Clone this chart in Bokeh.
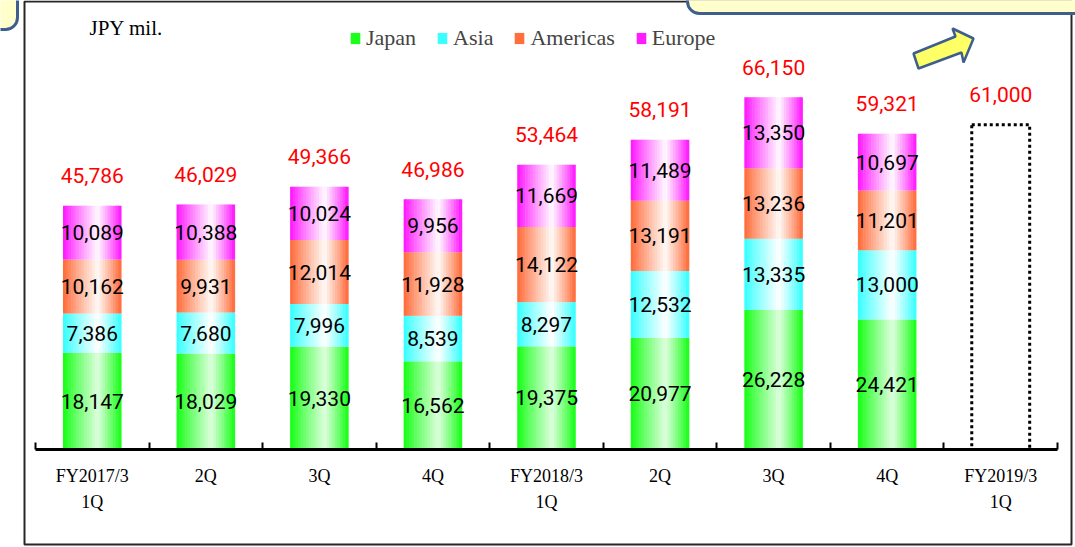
import numpy as np
from bokeh.plotting import figure
from bokeh.models import (ColumnDataSource, FixedTicker, Legend, LegendItem,
                          BoxAnnotation, PolyAnnotation, Label)
from bokeh.transform import dodge
from bokeh.core.properties import value
from bokeh.embed import file_html
from bokeh.resources import INLINE

# ---------------- data ----------------
categories = ["FY2017/3\n1Q", "2Q", "3Q", "4Q", "FY2018/3\n1Q", "2Q", "3Q", "4Q", "FY2019/3\n1Q"]
japan = [18147, 18029, 19330, 16562, 19375, 20977, 26228, 24421]
asia = [7386, 7680, 7996, 8539, 8297, 12532, 13335, 13000]
americas = [10162, 9931, 12014, 11928, 14122, 13191, 13236, 11201]
europe = [10089, 10388, 10024, 9956, 11669, 11489, 13350, 10697]
totals = [45786, 46029, 49366, 46986, 53464, 58191, 66150, 59321]
forecast = 61000

series_names = ["Japan", "Asia", "Americas", "Europe"]
series_vals = [japan, asia, americas, europe]
edge_colors = [(0x10, 0xFF, 0x10), (0x30, 0xFF, 0xFF), (0xFF, 0x66, 0x33), (0xFF, 0x10, 0xFF)]
light_colors = [(0xDD, 0xFF, 0xDD), (0xFF, 0xFF, 0xFF), (0xFF, 0xFA, 0xF6), (0xFF, 0xFA, 0xFF)]

n_act = len(japan)
n_cat = len(categories)
xc = np.arange(n_cat) + 0.5
BAR_W = 0.51

data = dict(x=xc[:n_act])
bottom = np.zeros(n_act)
for name, vals in zip(series_names, series_vals):
    v = np.array(vals, dtype=float)
    data[name + "_b"] = bottom.copy()
    data[name + "_t"] = bottom + v
    data[name + "_m"] = bottom + v / 2
    data[name + "_lab"] = [f"{int(a):,}" for a in vals]
    bottom = bottom + v
src = ColumnDataSource(data)

tot_src = ColumnDataSource(dict(
    x=list(xc), y=totals + [forecast],
    lab=[f"{t:,}" for t in totals + [forecast]]))
fc_src = ColumnDataSource(dict(x=[xc[-1]], top=[forecast]))

# ---------------- figure ----------------
# frame covers whole canvas; axis drawn at y=0 via fixed_location
W, H = 1075, 547
px_per_x = (1057 - 35) / n_cat
px_per_y = 5.325e-3
x0 = -35 / px_per_x
x1 = n_cat + (W - 1057) / px_per_x
y1 = 449 / px_per_y
y0 = -(H - 449) / px_per_y

p = figure(width=W, height=H, output_backend="svg", toolbar_location=None,
           x_range=(x0, x1), y_range=(y0, y1), min_border=0)
p.outline_line_color = None
p.grid.visible = False
p.yaxis.visible = False
p.background_fill_color = "white"
p.border_fill_color = "white"

def canvas_box(**kw):
    return BoxAnnotation(left_units="canvas", right_units="canvas",
                         top_units="canvas", bottom_units="canvas", **kw)

# outer frame
p.add_layout(canvas_box(left=24, right=1071, top=1, bottom=544,
                        fill_alpha=0, line_color="#262626", line_alpha=1, line_width=2))

# ---------------- gradient bars (strips) ----------------
N = 22
sw = BAR_W / N
legend_rs = {}
for si, name in enumerate(series_names):
    ec = np.array(edge_colors[si], float)
    lc = np.array(light_colors[si], float)
    for j in range(N):
        f = (j + 0.5) / N
        peak = 0.6
        t = f / peak if f <= peak else (1 - f) / (1 - peak)
        t = t ** 0.9
        c = ec + (lc - ec) * t
        col = "#%02x%02x%02x" % tuple(int(round(k)) for k in c)
        off = -BAR_W / 2 + (j + 0.5) * sw
        r = p.vbar(x=dodge("x", off), bottom=name + "_b", top=name + "_t",
                   width=sw * 1.25, fill_color=col, line_color=None, source=src)
        if j == 0:
            legend_rs[name] = r

# forecast dotted box
p.vbar(x="x", top="top", bottom=0, width=BAR_W, fill_color=None,
       line_color="black", line_width=3, line_dash="3 3", source=fc_src)

# ---------------- labels ----------------
num_font = value("Roboto")
for name in series_names:
    p.text(x="x", y=name + "_m", text=name + "_lab", source=src,
           text_font=num_font, text_font_size="21px", text_color="black",
           text_align="center", text_baseline="middle")
p.text(x="x", y="y", text="lab", source=tot_src, y_offset=-30,
       text_font=num_font, text_font_size="21px", text_color="#ff0000",
       text_align="center", text_baseline="middle")

p.add_layout(Label(x=89, y=27, x_units="canvas", y_units="canvas", text="JPY mil.",
                   text_font="Liberation Serif", text_font_size="21px",
                   text_baseline="middle", text_color="black"))

# ---------------- axis ----------------
ax = p.xaxis[0]
ax.fixed_location = 0
ax.bounds = (0, n_cat)
ax.ticker = FixedTicker(ticks=list(xc), minor_ticks=list(range(n_cat + 1)))
ax.major_label_overrides = {float(x): c for x, c in zip(xc, categories)}
ax.axis_line_width = 3
ax.axis_line_color = "black"
ax.major_tick_in = 0
ax.major_tick_out = 0
ax.minor_tick_in = 7
ax.minor_tick_out = 0
ax.minor_tick_line_width = 2
ax.minor_tick_line_color = "black"
ax.major_label_text_font = "Liberation Serif"
ax.major_label_text_font_size = "18px"
ax.major_label_text_color = "black"
ax.major_label_text_line_height = 1.3
ax.major_label_standoff = 16

# ---------------- legend ----------------
legend = Legend(items=[LegendItem(label=n, renderers=[legend_rs[n]]) for n in series_names],
                orientation="horizontal", location=(349, H - 51),
                glyph_width=12, glyph_height=14, label_standoff=5, spacing=20,
                padding=0, margin=0, border_line_color=None, background_fill_alpha=0,
                label_text_font="Liberation Serif", label_text_font_size="22px",
                label_height=14, label_text_baseline="middle")
p.add_layout(legend, "center")

# top-left and top-right rounded boxes + arrow
p.add_layout(canvas_box(left=-30, right=17, top=-30, bottom=29,
                        fill_color="#FFFFCC", fill_alpha=1, line_color="#3E5F8E",
                        line_alpha=1, line_width=3, border_radius=12))
p.add_layout(canvas_box(left=687, right=1110, top=-40, bottom=13,
                        fill_color="#FFFFCC", fill_alpha=1, line_color="#3E5F8E",
                        line_alpha=1, line_width=3, border_radius=12))
p.add_layout(PolyAnnotation(xs=[913, 955, 952, 973, 963, 961, 918],
                            ys=[53, 36, 28, 38, 62, 52, 68],
                            xs_units="canvas", ys_units="canvas",
                            fill_color="#FFFF66", fill_alpha=1,
                            line_color="#3E5F8E", line_alpha=1, line_width=2.5))

open("out.html", "w").write(file_html(p, INLINE))
